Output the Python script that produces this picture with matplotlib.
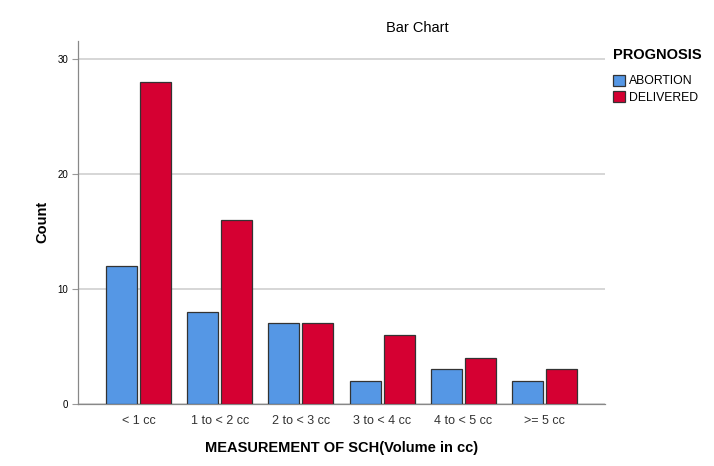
import matplotlib
matplotlib.use("Agg")
import matplotlib.pyplot as plt
import numpy as np
from matplotlib.patches import Patch

# counts
categories = ["< 1 cc", "1 to < 2 cc", "2 to < 3 cc", "3 to < 4 cc", "4 to < 5 cc", ">= 5 cc"]
abortion = [12, 8, 7, 2, 3, 2]
delivered = [28, 16, 7, 6, 4, 3]
series_names = ["ABORTION", "DELIVERED"]
yticks = [0, 10, 20, 30]

BLUE = "#5597e5"
RED = "#d50032"

plt.rcParams["font.family"] = ["Liberation Sans", "DejaVu Sans"]

fig = plt.figure(figsize=(7.14, 4.66), dpi=100)
ax = fig.add_axes([78 / 714, 1 - 404 / 466, (605 - 78) / 714, (404 - 40.7) / 466])

xs = np.arange(len(categories))
w = 0.38
off = 0.209
ax.bar(xs - off, abortion, width=w, color=BLUE, edgecolor="#333333", linewidth=0.9, zorder=3)
ax.bar(xs + off, delivered, width=w, color=RED, edgecolor="#333333", linewidth=0.9, zorder=3)

ax.set_xlim(-0.744, len(categories) - 1 + 0.744)
ax.set_ylim(0, 31.57)
ax.set_yticks(yticks)
ax.set_yticklabels([str(t) for t in yticks], fontsize=7)
ax.set_xticks(xs)
ax.set_xticklabels(categories, fontsize=9, color="#333333")
ax.tick_params(axis="x", length=0, pad=8)
ax.tick_params(axis="y", length=4, width=0.8, color="#999999", pad=3)

ax.yaxis.grid(True, color="#d0d0d0", linewidth=1.2, zorder=0)
ax.set_axisbelow(True)
for s in ("top", "right"):
    ax.spines[s].set_visible(False)
for s in ("left", "bottom"):
    ax.spines[s].set_color("#888888")
    ax.spines[s].set_linewidth(0.9)

ax.set_ylabel("Count", fontsize=10.5, fontweight="bold", labelpad=6)
ax.set_xlabel("MEASUREMENT OF SCH(Volume in cc)", fontsize=10.5, fontweight="bold", labelpad=10)

fig.text(417 / 714, 1 - 28 / 466, "Bar Chart", ha="center", va="center", fontsize=10.5)

handles = [Patch(facecolor=BLUE, edgecolor="#333333", linewidth=0.9),
           Patch(facecolor=RED, edgecolor="#333333", linewidth=0.9)]
leg = fig.legend(handles, series_names, loc="upper left", bbox_to_anchor=(607 / 714, 1 - 42 / 466),
                 frameon=False, fontsize=8.8, title="PROGNOSIS", handlelength=1.0, handleheight=1.0,
                 handletextpad=0.3, labelspacing=0.3, borderaxespad=0.3, borderpad=0.2)
leg.get_title().set_fontweight("bold")
leg.get_title().set_fontsize(10.5)
leg._legend_box.align = "left"
leg._legend_box.sep = 9

fig.savefig("out.png", dpi=100)
